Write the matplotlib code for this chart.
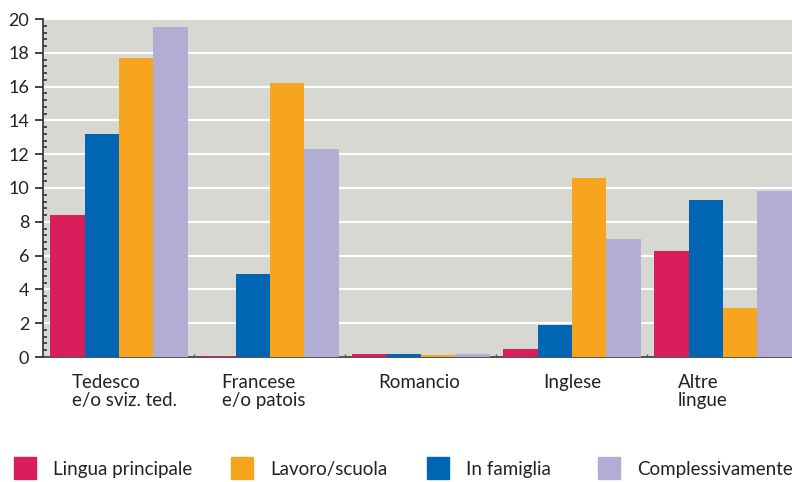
import numpy as np
import matplotlib.pyplot as plt
from matplotlib.ticker import MultipleLocator
from matplotlib.patches import Rectangle

plt.rcParams['font.family'] = ['Lato', 'DejaVu Sans']

categories = ["Tedesco\ne/o sviz. ted.", "Francese\ne/o patois", "Romancio", "Inglese", "Altre\nlingue"]
lingua_principale = [8.4, 0.05, 0.15, 0.5, 6.3]
in_famiglia = [13.2, 4.9, 0.2, 1.9, 9.3]
lavoro_scuola = [17.7, 16.2, 0.1, 10.6, 2.9]
complessivamente = [19.5, 12.3, 0.2, 7.0, 9.8]

c_pink = '#D81E5B'
c_blue = '#0066B3'
c_orange = '#F7A51E'
c_lav = '#B1ADD5'

W, H = 792, 482
fig = plt.figure(figsize=(W / 100, H / 100), dpi=100)
ax = fig.add_axes([43 / W, 125 / H, 749 / W, 338 / H])
ax.set_facecolor('#D8D8D2')

x = np.arange(len(categories))
w = 0.228
series = [(lingua_principale, c_pink), (in_famiglia, c_blue),
          (lavoro_scuola, c_orange), (complessivamente, c_lav)]
for i, (vals, col) in enumerate(series):
    ax.bar(x + (i - 1.5) * w, vals, w, color=col, zorder=3)

ax.set_ylim(0, 20)
ax.set_xlim(-0.503, 4.457)
ax.yaxis.set_major_locator(MultipleLocator(2))
ax.yaxis.set_minor_locator(MultipleLocator(0.4))
ax.grid(axis='y', color='white', linewidth=1.5, zorder=1)
ax.tick_params(axis='y', which='major', direction='out', length=6, width=1.2,
               labelsize=13, pad=4, colors='#222222')
ax.tick_params(axis='y', which='minor', direction='in', length=3, width=1.2, colors='#333333')

ax.set_xticks(x[:-1] + 0.5)
ax.set_xticklabels([])
ax.tick_params(axis='x', direction='in', length=2, width=1, colors='#555555')

for s in ['top', 'right']:
    ax.spines[s].set_visible(False)
ax.spines['left'].set_color('#333333')
ax.spines['left'].set_linewidth(1.2)
ax.spines['bottom'].set_color('#333333')
ax.spines['bottom'].set_linewidth(1.2)

# category labels below the axis
offsets = [-0.31, -0.32, -0.28, -0.19, -0.30]
for xi, lab, off in zip(x, categories, offsets):
    ax.text(xi + off, -1.0, lab, ha='left', va='top', fontsize=13.5,
            color='#222222', linespacing=1.1)

# legend drawn by hand, one row along the bottom
leg_labels = ["Lingua principale", "Lavoro/scuola", "In famiglia", "Complessivamente"]
leg_colors = [c_pink, c_orange, c_blue, c_lav]
box_x = [14, 231, 427, 598]
for bx, lab, col in zip(box_x, leg_labels, leg_colors):
    fig.patches.append(Rectangle((bx / W, 3 / H), 22 / W, 22 / H, color=col,
                                 transform=fig.transFigure))
    fig.text((bx + 39) / W, 12 / H, lab, ha='left', va='center', fontsize=13.5,
             color='#222222')

fig.savefig('out.png', dpi=100)
